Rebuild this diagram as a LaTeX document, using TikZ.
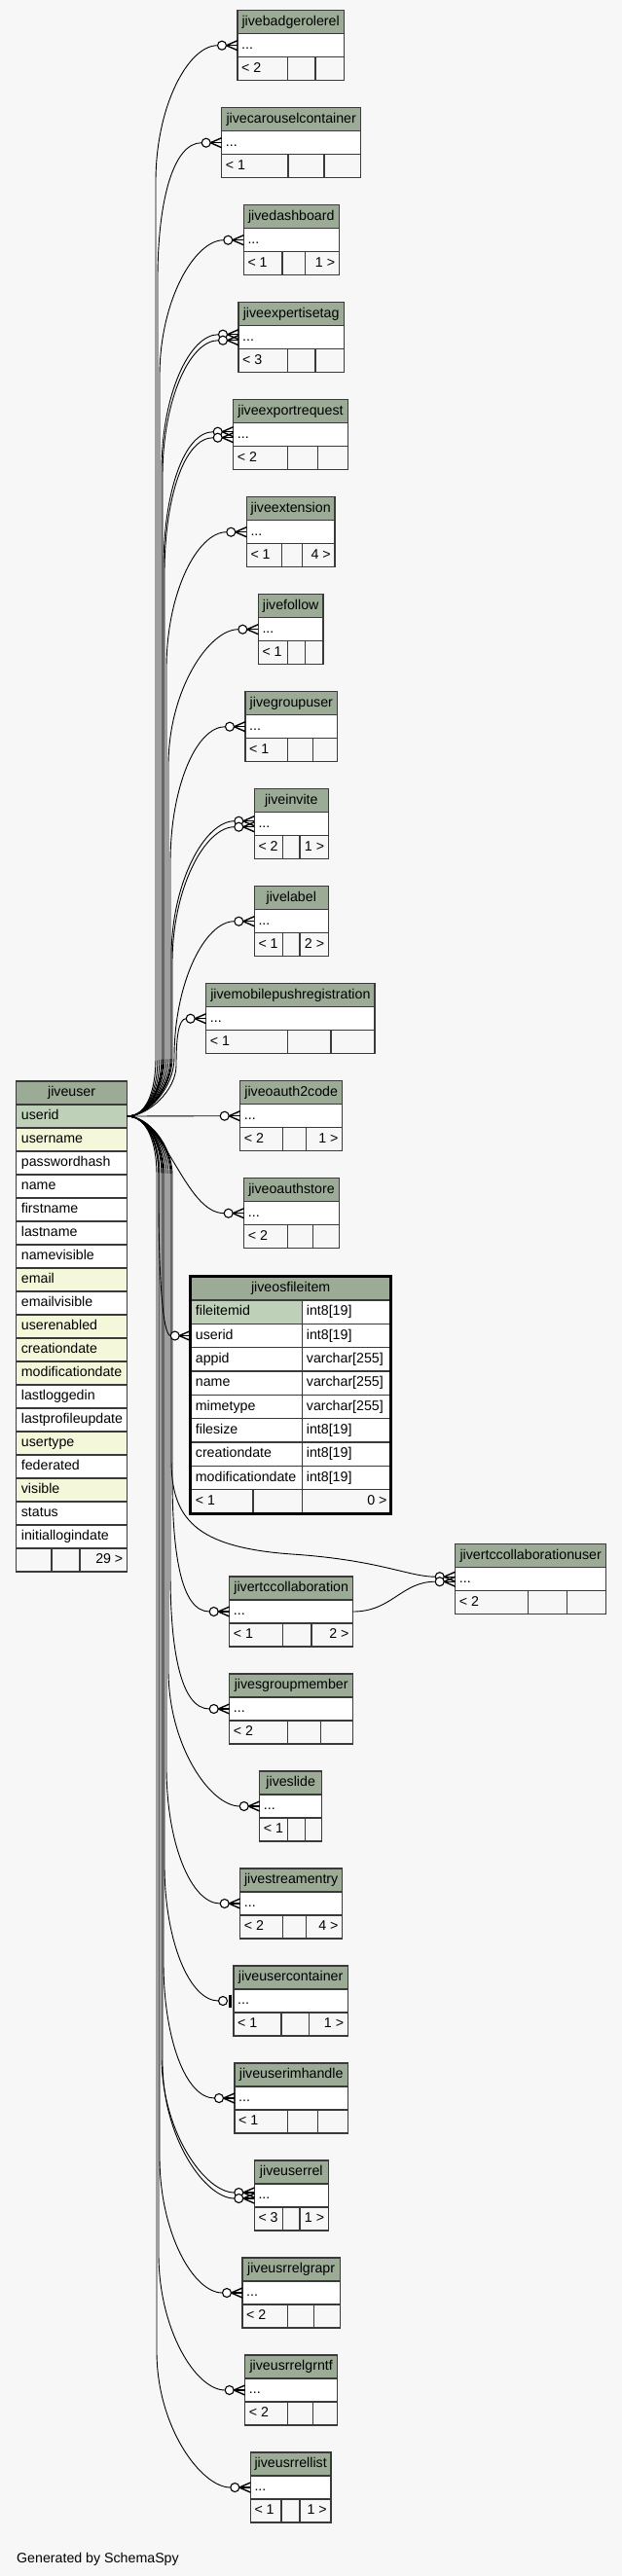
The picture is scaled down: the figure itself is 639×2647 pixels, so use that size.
\documentclass[tikz,border=0pt]{standalone}
\usepackage{fontspec}
\newfontfamily\tabfont{Liberation Sans}
\usetikzlibrary{calc}
\definecolor{bgc}{HTML}{F7F7F7}
\definecolor{hdrc}{HTML}{9BAB96}
\definecolor{pkc}{HTML}{BED1B8}
\definecolor{idxc}{HTML}{F4F7DA}
\definecolor{bordc}{HTML}{3A3A3A}
\tikzset{
  cellb/.style={draw=bordc, line width=1.1pt, inner sep=0pt, outer sep=0pt, anchor=north west, minimum height=24pt},
  txt/.style={font=\tabfont\fontsize{14.2}{16}\selectfont, inner sep=0pt, text height=10.5pt, text depth=3.5pt, text=black},
  fk/.style={draw=black, line width=0.9pt},
  crowl/.style={draw=black, line width=1.4pt},
  circ/.style={draw=black, line width=1.1pt, fill=white},
}
% name, left, right, top, title, div1, div2, left footer, right footer
\newcommand\smalltable[9]{%
  \node[cellb, fill=hdrc, minimum width={(#3-#2)*1pt}] (#1-h) at (#2,#4) {};
  \node[txt] at (#1-h.center) {#5};
  \node[cellb, fill=white, minimum width={(#3-#2)*1pt}] (#1-r) at (#2,#4+24) {};
  \node[txt, anchor=west] at ([xshift=4pt]#1-r.west) {...};
  \node[cellb, fill=bgc, minimum width={(#6-#2)*1pt}] (#1-fa) at (#2,#4+48) {};
  \node[cellb, fill=bgc, minimum width={(#7-#6)*1pt}] (#1-fb) at (#6,#4+48) {};
  \node[cellb, fill=bgc, minimum width={(#3-#7)*1pt}] (#1-fc) at (#7,#4+48) {};
  \node[txt, anchor=west] at ([xshift=4pt]#1-fa.west) {#8};
  \node[txt, anchor=east] at ([xshift=-4pt]#1-fc.east) {#9};
}
\newcommand\crowend[2]{%
  \draw[crowl] ($(#1.west)+(-11.5,#2)$) -- ($(#1.west)+(0,#2-5)$);
  \draw[crowl] ($(#1.west)+(-11.5,#2)$) -- ($(#1.west)+(0,#2)$);
  \draw[crowl] ($(#1.west)+(-11.5,#2)$) -- ($(#1.west)+(0,#2+5)$);
  \draw[circ] ($(#1.west)+(-16,#2)$) circle[radius=4.5];
}
\newcommand\teeend[1]{%
  \draw[draw=black, line width=2.6pt] ($(#1.west)+(-3.5,-6.5)$) -- ($(#1.west)+(-3.5,6.5)$);
  \draw[circ] ($(#1.west)+(-11,0)$) circle[radius=4.5];
}
% node, corridor x, target y, dy, end offset
\newcommand\upedge[5]{%
  \draw[fk] (ju-userid.east) .. controls +(22,0) and +(0,30) .. (#2,1087) -- (#2,#3+140) .. controls +(0,-78) and +(-30,0) .. ($(#1.west)+(#5,#4)$);
}
\newcommand\downedge[6]{%
  \draw[fk] (ju-userid.east) .. controls +(22,0) and +(0,-30) .. (#2,1207) -- (#2,#3-140) .. controls +(0,78) and +(-#6,0) .. ($(#1.west)+(#5,#4)$);
}
\begin{document}
\begin{tikzpicture}[x=1pt,y=-1pt]
\useasboundingbox (0,0) rectangle (639,2647);
\fill[bgc] (0,0) rectangle (639,2647);

% ---- jiveuser
\node[cellb, fill=hdrc, minimum width=113.8pt] (ju-h) at (16.7,1111) {};
\node[txt] at (ju-h.center) {jiveuser};
\foreach \n/\c [count=\i] in {userid/pkc, username/idxc, passwordhash/white, name/white, firstname/white, lastname/white, namevisible/white, email/idxc, emailvisible/white, userenabled/idxc, creationdate/idxc, modificationdate/idxc, lastloggedin/white, lastprofileupdate/white, usertype/idxc, federated/white, visible/idxc, status/white, initiallogindate/white} {
  \node[cellb, fill=\c, minimum width=113.8pt] (ju-\n) at (16.7,1111+24*\i) {};
  \node[txt, anchor=west] at ([xshift=5pt]ju-\n.west) {\n};
}
\node[cellb, fill=bgc, minimum width=36.3pt] (ju-fa) at (16.7,1591) {};
\node[cellb, fill=bgc, minimum width=29pt] (ju-fb) at (53,1591) {};
\node[cellb, fill=bgc, minimum width=48.5pt] (ju-fc) at (82,1591) {};
\node[txt, anchor=east] at ([xshift=-4pt]ju-fc.east) {29 >};

% ---- small tables
\smalltable{badge}{244}{353.3}{10.7}{jivebadgerolerel}{295.7}{324}{< 2}{}
\smalltable{carousel}{227.7}{370.7}{110.7}{jivecarouselcontainer}{296}{333}{< 1}{}
\smalltable{dash}{250.3}{348.3}{210.7}{jivedashboard}{290}{313.3}{< 1}{1 >}
\smalltable{expert}{245}{353.3}{310.7}{jiveexpertisetag}{295.7}{324}{< 3}{}
\smalltable{export}{239.7}{357.3}{410.7}{jiveexportrequest}{295.7}{326.7}{< 2}{}
\smalltable{ext}{253.3}{344}{510.7}{jiveextension}{289.3}{310.7}{< 1}{4 >}
\smalltable{follow}{265.3}{332}{610.7}{jivefollow}{295.7}{313.3}{< 1}{}
\smalltable{groupuser}{252}{346.7}{710.7}{jivegroupuser}{295.7}{321.3}{< 1}{}
\smalltable{invite}{261.3}{337.3}{810.7}{jiveinvite}{290.7}{308}{< 2}{1 >}
\smalltable{label}{261.3}{337.3}{910.7}{jivelabel}{290.7}{308}{< 1}{2 >}
\smalltable{mobile}{211.7}{385}{1010.7}{jivemobilepushregistration}{295.7}{340}{< 1}{}
\smalltable{oauth2}{246.7}{351.7}{1110.7}{jiveoauth2code}{290.7}{314.7}{< 2}{1 >}
\smalltable{oauthstore}{250.7}{348.3}{1210.7}{jiveoauthstore}{295.7}{321.3}{< 2}{}
\smalltable{rtccol}{235.7}{362.7}{1620}{jivertccollaboration}{290.7}{320}{< 1}{2 >}
\smalltable{rtcuser}{467.7}{622.7}{1586.7}{jivertccollaborationuser}{542.3}{582.7}{< 2}{}
\smalltable{sgroup}{235.7}{362.7}{1720}{jivesgroupmember}{295.7}{329.3}{< 2}{}
\smalltable{slide}{266.7}{330.7}{1820}{jiveslide}{295.7}{313.3}{< 1}{}
\smalltable{stream}{246.7}{351.7}{1920}{jivestreamentry}{290.7}{314.7}{< 2}{4 >}
\smalltable{ucont}{240}{357.3}{2020}{jiveusercontainer}{289}{317.3}{< 1}{1 >}
\smalltable{uim}{241}{357.3}{2120}{jiveuserimhandle}{295.7}{326.7}{< 1}{}
\smalltable{urel}{261.3}{337.3}{2220}{jiveuserrel}{290.7}{308}{< 3}{1 >}
\smalltable{grapr}{249}{349.3}{2320}{jiveusrrelgrapr}{295.7}{322.7}{< 2}{}
\smalltable{grntf}{251.7}{346.7}{2420}{jiveusrrelgrntf}{295.7}{321.3}{< 2}{}
\smalltable{rellist}{257.3}{340}{2520}{jiveusrrellist}{289}{308}{< 1}{1 >}

% ---- jiveosfileitem (focus table)
\node[cellb, fill=hdrc, minimum width=206pt, minimum height=24.33pt] (osfile-h) at (195.7,1311.7) {};
\node[txt] at (osfile-h.center) {jiveosfileitem};
\foreach \a/\b/\c [count=\i] in {fileitemid/int8[19]/pkc, userid/int8[19]/white, appid/varchar[255]/white, name/varchar[255]/white, mimetype/varchar[255]/white, filesize/int8[19]/white, creationdate/int8[19]/white, modificationdate/int8[19]/white} {
  \node[cellb, fill=\c, minimum width=115pt, minimum height=24.33pt] (osfile-\a) at (195.7,1311.7+24.33*\i) {};
  \node[cellb, fill=white, minimum width=91pt, minimum height=24.33pt] (osfile-\a-t) at (310.7,1311.7+24.33*\i) {};
  \node[txt, anchor=west] at ([xshift=5pt]osfile-\a.west) {\a};
  \node[txt, anchor=west] at ([xshift=4pt]osfile-\a-t.west) {\b};
}
\node[cellb, fill=bgc, minimum width=64.3pt, minimum height=24.33pt] (osfile-fa) at (195.7,1530.7) {};
\node[cellb, fill=bgc, minimum width=50.7pt, minimum height=24.33pt] (osfile-fb) at (260,1530.7) {};
\node[cellb, fill=bgc, minimum width=91pt, minimum height=24.33pt] (osfile-fc) at (310.7,1530.7) {};
\node[txt, anchor=west] at ([xshift=5pt]osfile-fa.west) {< 1};
\node[txt, anchor=east] at ([xshift=-4pt]osfile-fc.east) {0 >};
\node[draw=black, line width=3pt, inner sep=0pt, outer sep=0pt, anchor=north west, minimum width=206pt, minimum height=243.3pt] (osfile) at (195.7,1311.7) {};

% ---- edges going up
\upedge{badge-r}{160}{46.7}{0}{-20.5}
\upedge{carousel-r}{162}{146.7}{0}{-20.5}
\upedge{dash-r}{164}{246.7}{0}{-20.5}
\upedge{expert-r}{166}{343.7}{-3}{-20.5}
\upedge{expert-r}{167}{349.7}{3}{-20.5}
\upedge{export-r}{168}{443.7}{-3}{-20.5}
\upedge{export-r}{169}{449.7}{3}{-20.5}
\upedge{ext-r}{171}{546.7}{0}{-20.5}
\upedge{follow-r}{173}{646.7}{0}{-20.5}
\upedge{groupuser-r}{175}{746.7}{0}{-20.5}
\upedge{invite-r}{176}{843.7}{-3}{-20.5}
\upedge{invite-r}{177}{849.7}{3}{-20.5}
\upedge{label-r}{179}{946.7}{0}{-20.5}
\draw[fk] (ju-userid.east) .. controls +(22,0) and +(0,25) .. (181,1095) .. controls +(0,-28) and +(-8,0) .. ($(mobile-r.west)+(-20.5,0)$);
\draw[fk] (ju-userid.east) -- ($(oauth2-r.west)+(-20.5,0)$);
% ---- edges going down
\draw[fk] (ju-userid.east) .. controls (170,1147) and (190,1246.7) .. ($(oauthstore-r.west)+(-20.5,0)$);
\downedge{osfile-userid}{163}{1372.7}{0}{-20.5}{8}
\draw[fk] (ju-userid.east) .. controls +(22,0) and +(0,-30) .. (176,1207) -- (176,1500) .. controls (176,1560) and (200,1590) .. (300,1597) .. controls (390,1603) and (420,1620.2) .. ($(rtcuser-r.west)+(-20.5,-2.5)$);
\draw[fk] (rtccol-r.east) .. controls +(40,0) and +(-35,0) .. ($(rtcuser-r.west)+(-20.5,2.5)$);
\downedge{rtccol-r}{177}{1656}{0}{-20.5}{30}
\downedge{sgroup-r}{175}{1756}{0}{-20.5}{30}
\downedge{slide-r}{173}{1856}{0}{-20.5}{30}
\downedge{stream-r}{171}{1956}{0}{-20.5}{30}
\downedge{ucont-r}{169}{2056}{0}{-15.5}{30}
\downedge{uim-r}{168}{2156}{0}{-20.5}{30}
\downedge{urel-r}{166}{2253}{-3}{-20.5}{30}
\downedge{urel-r}{167}{2259}{3}{-20.5}{30}
\downedge{grapr-r}{164}{2356}{0}{-20.5}{30}
\downedge{grntf-r}{163}{2456}{0}{-20.5}{30}
\downedge{rellist-r}{161}{2556}{0}{-20.5}{30}

% ---- edge ends
\crowend{badge-r}{0}
\crowend{carousel-r}{0}
\crowend{dash-r}{0}
\crowend{expert-r}{-3}
\crowend{expert-r}{3}
\crowend{export-r}{-3}
\crowend{export-r}{3}
\crowend{ext-r}{0}
\crowend{follow-r}{0}
\crowend{groupuser-r}{0}
\crowend{invite-r}{-3}
\crowend{invite-r}{3}
\crowend{label-r}{0}
\crowend{mobile-r}{0}
\crowend{oauth2-r}{0}
\crowend{oauthstore-r}{0}
\crowend{osfile-userid}{0}
\crowend{rtcuser-r}{-2.5}
\crowend{rtcuser-r}{2.5}
\crowend{rtccol-r}{0}
\crowend{sgroup-r}{0}
\crowend{slide-r}{0}
\crowend{stream-r}{0}
\teeend{ucont-r}
\crowend{uim-r}{0}
\crowend{urel-r}{-3}
\crowend{urel-r}{3}
\crowend{grapr-r}{0}
\crowend{grntf-r}{0}
\crowend{rellist-r}{0}

\node[txt, anchor=west] (gen) at (17,2629.5) {Generated by SchemaSpy};
\end{tikzpicture}
\end{document}
